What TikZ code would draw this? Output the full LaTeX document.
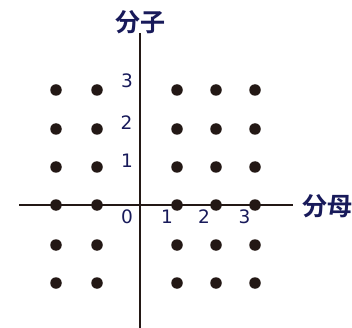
\documentclass[tikz,border=0pt]{standalone}
\usepackage{fontspec}
\newfontfamily\numfont{DejaVu Sans}
\newfontfamily\cjkb{Noto Sans CJK JP Bold}
\definecolor{ink}{RGB}{35,24,21}
\definecolor{navy}{RGB}{24,26,90}
\begin{document}
\begin{tikzpicture}[x=1pt,y=-1pt,
  dot/.style={circle,fill=ink,inner sep=0pt,minimum size=11.5pt},
  axis/.style={draw=ink,line width=1.6pt},
  num/.style={text=navy,font=\numfont\fontsize{18.5}{18.5}\selectfont,inner sep=0pt},
  title/.style={text=navy,font=\cjkb\fontsize{25}{25}\selectfont,inner sep=0pt}]
\useasboundingbox (0,0) rectangle (352,328);
\coordinate (xs) at (19,205);
\coordinate (xe) at (293,205);
\coordinate (ys) at (140,33);
\coordinate (ye) at (140,328);
\draw[axis] (xs) -- (xe);
\draw[axis] (ys) -- (ye);
\foreach \x [count=\i] in {56,97,177,216,255}{
  \foreach \y [count=\j] in {90,129,167,205,245,283}{
    \node[dot] (d\i\j) at (\x,\y) {};
  }
}
\node[num] (y3) at (127,80.5) {3};
\node[num] (y2) at (126.5,122.5) {2};
\node[num] (y1) at (127,161) {1};
\node[num] (x0) at (127,217) {0};
\node[num] (x1) at (167,217) {1};
\node[num] (x2) at (204,217) {2};
\node[num] (x3) at (244.5,217) {3};
\node[title] (bunshi) at (140.5,22.5) {分子};
\node[title,anchor=west] (bunbo) at (302,206) {分母};
\end{tikzpicture}
\end{document}
